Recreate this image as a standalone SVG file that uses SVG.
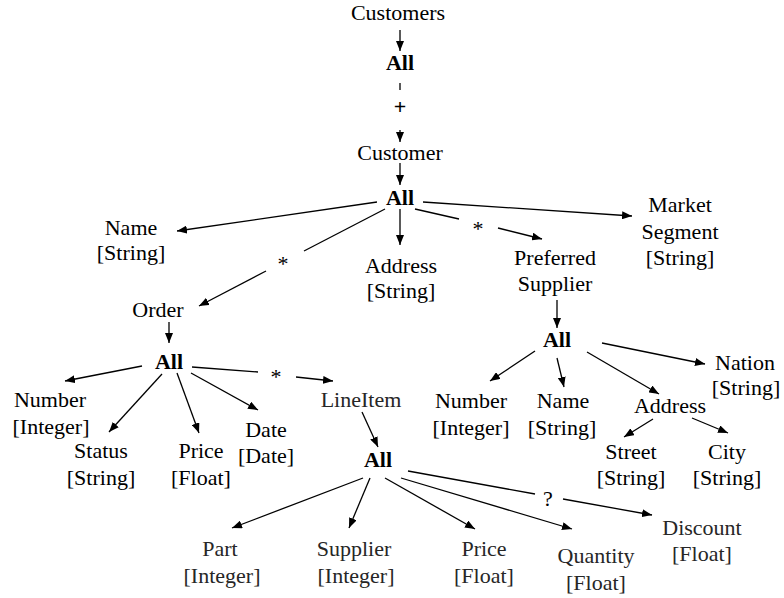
<svg xmlns="http://www.w3.org/2000/svg" width="784" height="598" viewBox="0 0 784 598" font-family="'Liberation Serif', 'Times New Roman', serif" font-size="22">
  <style>
    text { font-family: "Liberation Serif", "Times New Roman", serif; font-size: 22px; fill: #000; text-anchor: middle; }
    text.b { font-weight: bold; }
    text.g { fill: #262626; }
    .edges line { stroke: #000; stroke-width: 1.3; fill: none; }
    .edges line.a { marker-end: url(#arr); }
  </style>
  <defs>
    <marker id="arr" viewBox="0 0 10 8" refX="10" refY="4" markerWidth="10" markerHeight="8" markerUnits="userSpaceOnUse" orient="auto">
      <path d="M0,0 L10,4 L0,8 Z" fill="#000"/>
    </marker>
  </defs>

  <rect width="784" height="598" fill="#fff"/>

  <!-- connectors -->
  <g class="edges">
    <line class="a" x1="400" y1="30" x2="400" y2="51"/>
    <line x1="400" y1="83" x2="400" y2="90"/>
    <line class="a" x1="400" y1="130" x2="400" y2="142"/>
    <line class="a" x1="400" y1="163" x2="400" y2="185"/>
    <!-- Customer/All -->
    <line class="a" x1="377" y1="202" x2="177" y2="231"/>
    <line x1="385" y1="209" x2="304" y2="251"/>
    <line class="a" x1="266" y1="271" x2="199" y2="306"/>
    <line class="a" x1="400" y1="209" x2="400" y2="245"/>
    <line x1="415" y1="209" x2="459" y2="219"/>
    <line class="a" x1="498" y1="228" x2="542" y2="239"/>
    <line class="a" x1="423" y1="202" x2="632" y2="216"/>
    <!-- Order/All -->
    <line class="a" x1="169" y1="322" x2="169" y2="343"/>
    <line class="a" x1="142" y1="366" x2="65" y2="381"/>
    <line class="a" x1="162" y1="374" x2="109" y2="432"/>
    <line class="a" x1="177" y1="373" x2="199" y2="433"/>
    <line class="a" x1="191" y1="373" x2="258" y2="410"/>
    <line x1="192" y1="367" x2="258" y2="372"/>
    <line class="a" x1="296" y1="377" x2="333" y2="381"/>
    <!-- LineItem/All -->
    <line class="a" x1="362" y1="412" x2="378" y2="447"/>
    <line class="a" x1="363" y1="478" x2="232" y2="528"/>
    <line class="a" x1="370" y1="478" x2="349" y2="528"/>
    <line class="a" x1="385" y1="478" x2="475" y2="529"/>
    <line class="a" x1="401" y1="478" x2="572" y2="529"/>
    <line x1="408" y1="471" x2="535" y2="494"/>
    <line class="a" x1="563" y1="499" x2="652" y2="515"/>
    <!-- Preferred Supplier/All -->
    <line class="a" x1="557" y1="300" x2="557" y2="328"/>
    <line class="a" x1="535" y1="351" x2="490" y2="381"/>
    <line class="a" x1="557" y1="358" x2="564" y2="387"/>
    <line class="a" x1="587" y1="352" x2="659" y2="394"/>
    <line class="a" x1="602" y1="343" x2="705" y2="364"/>
    <line class="a" x1="653" y1="419" x2="624" y2="437"/>
    <line class="a" x1="692" y1="418" x2="728" y2="433"/>
  </g>

  <!-- edge labels -->
  <g id="labels">
    <text class="b" x="400" y="114">+</text>
    <text x="283" y="271">*</text>
    <text x="478" y="236">*</text>
    <text x="276" y="384">*</text>
    <text x="548" y="506">?</text>
  </g>

  <!-- nodes -->
  <g id="customers"><text x="398" y="20">Customers</text></g>
  <g id="all-customers"><text class="b" x="400" y="70">All</text></g>
  <g id="customer"><text x="400" y="160">Customer</text></g>
  <g id="all-customer"><text class="b" x="400" y="205">All</text></g>

  <g id="name"><text x="131" y="235">Name</text><text x="131" y="260">[String]</text></g>
  <g id="address"><text x="401" y="273">Address</text><text x="401" y="298">[String]</text></g>
  <g id="preferred-supplier"><text x="555" y="265">Preferred</text><text x="555" y="291">Supplier</text></g>
  <g id="market-segment"><text x="680" y="212">Market</text><text x="680" y="239">Segment</text><text x="680" y="265">[String]</text></g>

  <g id="order"><text x="158" y="317">Order</text></g>
  <g id="all-order"><text class="b" x="169" y="369">All</text></g>
  <g id="order-number"><text x="50" y="407">Number</text><text x="51" y="434">[Integer]</text></g>
  <g id="order-status"><text x="101" y="458">Status</text><text x="101" y="485">[String]</text></g>
  <g id="order-price"><text x="201" y="458">Price</text><text x="201" y="485">[Float]</text></g>
  <g id="order-date"><text x="266" y="437">Date</text><text x="266" y="463">[Date]</text></g>
  <g id="lineitem"><text class="g" x="361" y="407">LineItem</text></g>
  <g id="all-lineitem"><text class="b" x="378" y="467">All</text></g>

  <g id="part"><text class="g" x="220" y="556">Part</text><text class="g" x="222" y="583">[Integer]</text></g>
  <g id="supplier"><text class="g" x="354" y="556">Supplier</text><text class="g" x="356" y="583">[Integer]</text></g>
  <g id="item-price"><text class="g" x="484" y="556">Price</text><text class="g" x="484" y="583">[Float]</text></g>
  <g id="quantity"><text class="g" x="596" y="563">Quantity</text><text class="g" x="596" y="590">[Float]</text></g>
  <g id="discount"><text class="g" x="702" y="535">Discount</text><text class="g" x="702" y="561">[Float]</text></g>

  <g id="all-supplier"><text class="b" x="557" y="347">All</text></g>
  <g id="supplier-number"><text x="471" y="408">Number</text><text x="471" y="435">[Integer]</text></g>
  <g id="supplier-name"><text x="563" y="408">Name</text><text x="562" y="435">[String]</text></g>
  <g id="supplier-address"><text x="670" y="413">Address</text></g>
  <g id="nation"><text x="745" y="370">Nation</text><text x="746" y="395">[String]</text></g>
  <g id="street"><text x="631" y="459">Street</text><text x="631" y="485">[String]</text></g>
  <g id="city"><text x="727" y="459">City</text><text x="727" y="485">[String]</text></g>
</svg>
